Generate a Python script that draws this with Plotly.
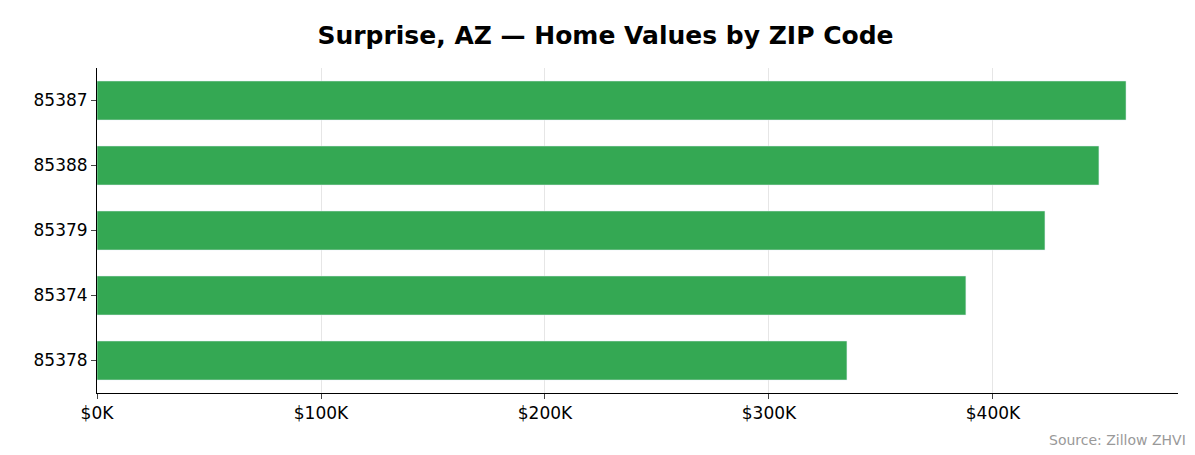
import plotly.graph_objects as go

# ZHVI by ZIP
zips = ["85387", "85388", "85379", "85374", "85378"]
values = [459400, 447300, 423200, 387900, 334800]
tick_vals = [0, 100000, 200000, 300000, 400000]
tick_text = ["$0K", "$100K", "$200K", "$300K", "$400K"]

fig = go.Figure(go.Bar(
    x=values, y=zips, orientation="h",
    marker=dict(color="#34a853"), width=0.6,
))

fig.update_layout(
    width=1195, height=455,
    margin=dict(l=89, r=25, t=60, b=70, autoexpand=False),
    paper_bgcolor="white", plot_bgcolor="white",
    font=dict(family="DejaVu Sans", size=17, color="black"),
    title=dict(text="<b>Surprise, AZ — Home Values by ZIP Code</b>",
               x=0.5, xanchor="center", y=0.94, yanchor="middle",
               font=dict(size=25)),
    showlegend=False,
    annotations=[dict(text="Source: Zillow ZHVI", xref="paper", yref="paper",
                      x=1.009, y=-0.145, xanchor="right", yanchor="middle",
                      showarrow=False, font=dict(size=14, color="#999999"))],
)
fig.update_xaxes(range=[0, 482600], tickvals=tick_vals, ticktext=tick_text,
                 showgrid=True, gridcolor="#e6e6e6", showline=True,
                 linecolor="black", ticks="outside", ticklen=5, zeroline=False,
                 automargin=False)
fig.update_yaxes(categoryorder="array", categoryarray=zips[::-1],
                 showline=True, linecolor="black", ticks="outside", ticklen=5,
                 showgrid=False, automargin=False)

fig.write_html("out.html")
